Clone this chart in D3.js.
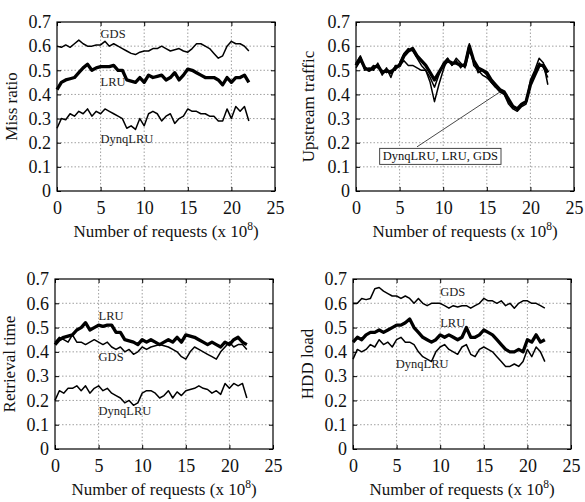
<!DOCTYPE html>
<html><head><meta charset="utf-8">
<script src="https://cdn.jsdelivr.net/npm/d3@7"></script>
<style>
html,body{margin:0;padding:0;background:#fff;}
svg{display:block;}
text{font-family:"Liberation Serif","Times New Roman",serif;}
</style></head>
<body>
<svg id="chart" width="585" height="502" font-family="Liberation Serif, Times New Roman, serif"></svg>
<script>
// x positions (x 10^8 requests), every 0.5
const xValues = d3.range(0, 22.01, 0.5);
const xTicks = [0, 5, 10, 15, 20, 25];
const yTicks = [0, 0.1, 0.2, 0.3, 0.4, 0.5, 0.6, 0.7];
const xTickLabels = ["0", "5", "10", "15", "20", "25"];
const yTickLabels = ["0", "0.1", "0.2", "0.3", "0.4", "0.5", "0.6", "0.7"];

// Panel 1: Miss ratio
const missGDS = [0.60,0.595,0.605,0.595,0.61,0.625,0.61,0.60,0.60,0.605,0.605,0.62,0.60,0.61,0.60,0.59,0.58,0.57,0.565,0.575,0.58,0.58,0.59,0.59,0.60,0.59,0.58,0.585,0.59,0.58,0.575,0.59,0.61,0.61,0.60,0.59,0.57,0.55,0.56,0.60,0.62,0.61,0.61,0.60,0.58];
const missLRU = [0.42,0.45,0.46,0.465,0.47,0.49,0.51,0.525,0.50,0.51,0.515,0.515,0.515,0.52,0.50,0.50,0.46,0.455,0.45,0.47,0.45,0.48,0.47,0.475,0.48,0.46,0.47,0.49,0.46,0.48,0.505,0.50,0.49,0.48,0.47,0.47,0.47,0.46,0.44,0.47,0.45,0.47,0.47,0.48,0.45];
const missDynq = [0.26,0.30,0.295,0.32,0.31,0.33,0.32,0.34,0.31,0.33,0.32,0.34,0.33,0.32,0.31,0.30,0.26,0.27,0.255,0.30,0.27,0.32,0.33,0.32,0.29,0.31,0.32,0.28,0.30,0.31,0.34,0.33,0.33,0.32,0.32,0.31,0.31,0.29,0.29,0.34,0.30,0.35,0.33,0.35,0.29];

// Panel 2: Upstream traffic
const upLRU = [0.52,0.55,0.51,0.50,0.51,0.52,0.49,0.50,0.49,0.51,0.52,0.56,0.58,0.59,0.56,0.54,0.52,0.49,0.46,0.49,0.52,0.54,0.53,0.53,0.52,0.52,0.60,0.54,0.51,0.50,0.49,0.46,0.44,0.42,0.41,0.38,0.35,0.34,0.36,0.37,0.44,0.48,0.52,0.52,0.49];
const upGDS = [0.53,0.56,0.50,0.51,0.50,0.53,0.48,0.51,0.47,0.52,0.52,0.54,0.52,0.52,0.51,0.50,0.50,0.45,0.37,0.44,0.50,0.55,0.52,0.54,0.51,0.53,0.61,0.52,0.50,0.48,0.47,0.45,0.43,0.41,0.40,0.36,0.34,0.33,0.35,0.36,0.46,0.50,0.55,0.53,0.44];
const upDynq = [0.51,0.54,0.51,0.50,0.52,0.51,0.50,0.49,0.50,0.50,0.53,0.57,0.59,0.58,0.55,0.52,0.50,0.47,0.43,0.48,0.53,0.55,0.52,0.55,0.53,0.51,0.58,0.54,0.49,0.50,0.48,0.45,0.43,0.42,0.40,0.37,0.35,0.34,0.36,0.37,0.45,0.49,0.53,0.51,0.47];

// Panel 3: Retrieval time
const retLRU = [0.43,0.45,0.46,0.465,0.47,0.49,0.50,0.52,0.49,0.50,0.51,0.505,0.51,0.51,0.48,0.48,0.45,0.445,0.44,0.43,0.45,0.44,0.45,0.44,0.43,0.44,0.45,0.44,0.46,0.44,0.47,0.465,0.46,0.45,0.44,0.43,0.44,0.43,0.42,0.44,0.43,0.45,0.46,0.44,0.43];
const retGDS = [0.44,0.46,0.45,0.44,0.47,0.44,0.44,0.43,0.44,0.45,0.44,0.43,0.44,0.42,0.41,0.42,0.40,0.41,0.39,0.40,0.42,0.41,0.42,0.425,0.43,0.425,0.42,0.41,0.40,0.38,0.37,0.40,0.42,0.41,0.40,0.39,0.38,0.37,0.40,0.42,0.44,0.42,0.43,0.43,0.41];
const retDynq = [0.20,0.24,0.23,0.25,0.25,0.26,0.24,0.26,0.23,0.25,0.26,0.24,0.25,0.23,0.22,0.21,0.19,0.20,0.18,0.19,0.23,0.24,0.24,0.23,0.21,0.22,0.24,0.21,0.235,0.22,0.24,0.245,0.25,0.26,0.25,0.245,0.23,0.24,0.225,0.27,0.25,0.27,0.26,0.27,0.21];

// Panel 4: HDD load
const hddGDS = [0.60,0.60,0.62,0.615,0.62,0.66,0.665,0.65,0.64,0.63,0.63,0.62,0.63,0.62,0.60,0.62,0.60,0.59,0.60,0.60,0.60,0.59,0.58,0.59,0.585,0.59,0.59,0.58,0.59,0.60,0.62,0.61,0.61,0.60,0.61,0.59,0.60,0.58,0.60,0.61,0.61,0.60,0.60,0.59,0.58];
const hddLRU = [0.44,0.46,0.45,0.47,0.48,0.48,0.49,0.48,0.49,0.50,0.51,0.51,0.52,0.535,0.50,0.48,0.46,0.45,0.44,0.45,0.47,0.46,0.47,0.46,0.45,0.46,0.50,0.46,0.46,0.47,0.49,0.48,0.47,0.45,0.43,0.41,0.40,0.40,0.41,0.40,0.45,0.44,0.47,0.44,0.45];
const hddDynq = [0.37,0.41,0.40,0.41,0.43,0.42,0.45,0.43,0.44,0.42,0.45,0.46,0.44,0.44,0.43,0.40,0.38,0.37,0.36,0.40,0.42,0.43,0.41,0.40,0.39,0.42,0.43,0.39,0.38,0.41,0.42,0.41,0.40,0.38,0.36,0.34,0.34,0.35,0.34,0.36,0.41,0.38,0.42,0.40,0.36];

const panels = [
  {box:[57,22,275,191], ylabel:"Miss ratio", ylabX:11,
   series:[{v:missGDS,w:1.5},{v:missDynq,w:1.5},{v:missLRU,w:3.3}],
   labels:[{t:"GDS",x:5.0,y:0.65},{t:"LRU",x:5.0,y:0.452},{t:"DynqLRU",x:5.0,y:0.218}]},
  {box:[356,22,574,191], ylabel:"Upstream traffic", ylabX:308,
   series:[{v:upGDS,w:1.5},{v:upDynq,w:1.5},{v:upLRU,w:3.3}],
   labels:[], note:{t:"DynqLRU, LRU, GDS", x:2.6, y:0.145, lx:7.0, ly:0.183, px:16.5, py:0.41}},
  {box:[55,279,273,449], ylabel:"Retrieval time", ylabX:9,
   series:[{v:retGDS,w:1.5},{v:retDynq,w:1.5},{v:retLRU,w:3.3}],
   labels:[{t:"LRU",x:5.0,y:0.548},{t:"GDS",x:5.0,y:0.379},{t:"DynqLRU",x:5.0,y:0.159}]},
  {box:[353,279,571,449], ylabel:"HDD load", ylabX:307,
   series:[{v:hddGDS,w:1.5},{v:hddDynq,w:1.5},{v:hddLRU,w:3.3}],
   labels:[{t:"GDS",x:10.0,y:0.647},{t:"LRU",x:10.0,y:0.52},{t:"DynqLRU",x:4.9,y:0.35}]}
];

const svg = d3.select("#chart");
const FONT = "Liberation Serif, Times New Roman, serif";

panels.forEach(p => {
  const [x0,y0,x1,y1] = p.box;
  const x = d3.scaleLinear().domain([0,25]).range([x0,x1]);
  const y = d3.scaleLinear().domain([0,0.7]).range([y1,y0]);
  const g = svg.append("g");

  // grid
  const grid = g.append("g").attr("stroke","#888").attr("stroke-width",0.8).attr("stroke-dasharray","1.5,2");
  xTicks.slice(1,-1).forEach(t => grid.append("line").attr("x1",x(t)).attr("x2",x(t)).attr("y1",y0).attr("y2",y1));
  yTicks.slice(1,-1).forEach(t => grid.append("line").attr("y1",y(t)).attr("y2",y(t)).attr("x1",x0).attr("x2",x1));

  // axes
  g.append("g").attr("transform",`translate(0,${y1})`)
    .call(d3.axisBottom(x).tickValues(xTicks).tickSize(-4).tickPadding(10).tickFormat((d,i)=>xTickLabels[i]));
  g.append("g").attr("transform",`translate(${x0},0)`)
    .call(d3.axisLeft(y).tickValues(yTicks).tickSize(-4).tickPadding(6).tickFormat((d,i)=>yTickLabels[i]));
  g.append("g").attr("transform",`translate(${x1},0)`)
    .call(d3.axisRight(y).tickValues(yTicks).tickSize(-4).tickFormat(""));
  g.append("g").attr("transform",`translate(0,${y0})`)
    .call(d3.axisTop(x).tickValues(xTicks).tickSize(-4).tickFormat(""));
  g.selectAll(".domain").remove();
  g.selectAll("g[font-family]").attr("font-family", FONT);
  g.selectAll(".tick line").attr("stroke","#000").attr("stroke-width",1);
  g.selectAll(".tick text").attr("font-size",18).attr("fill","#111").attr("font-family",FONT);

  // frame
  g.append("rect").attr("x",x0).attr("y",y0).attr("width",x1-x0).attr("height",y1-y0)
    .attr("fill","none").attr("stroke","#000").attr("stroke-width",1.2);

  // lines
  const line = d3.line().x((d,i)=>x(xValues[i])).y(d=>y(d));
  p.series.forEach(s => {
    g.append("path").datum(s.v).attr("d",line).attr("fill","none")
      .attr("stroke","#000").attr("stroke-width",s.w).attr("stroke-linejoin","round");
  });

  // labels
  p.labels.forEach(l => {
    g.append("text").attr("x",x(l.x)).attr("y",y(l.y)).attr("dy","0.35em")
      .attr("font-size",12.5).attr("fill","#222").attr("font-family",FONT).text(l.t);
  });
  if (p.note) {
    const n = p.note;
    g.append("line").attr("x1",x(n.lx)).attr("y1",y(n.ly)).attr("x2",x(n.px)).attr("y2",y(n.py))
      .attr("stroke","#333").attr("stroke-width",0.9);
    const ng = g.append("g");
    const r = ng.append("rect");
    const t = ng.append("text").attr("x",x(n.x)+4).attr("y",y(n.y)).attr("dy","0.35em")
      .attr("font-size",12.5).attr("fill","#111").attr("font-family",FONT).text(n.t);
    const bb = t.node().getBBox();
    r.attr("x",bb.x-3).attr("y",bb.y-1).attr("width",bb.width+6).attr("height",bb.height+2)
      .attr("fill","#fff").attr("stroke","#333").attr("stroke-width",0.9);
  }

  // axis titles
  const xt = g.append("text").attr("x",(x0+x1)/2).attr("y",y1+46).attr("text-anchor","middle")
    .attr("font-size",17).attr("fill","#111").attr("font-family",FONT);
  xt.append("tspan").text("Number of requests (x 10");
  xt.append("tspan").attr("font-size",11.5).attr("dy",-7).text("8");
  xt.append("tspan").attr("dy",7).text(")");
  g.append("text").attr("transform",`translate(${p.ylabX},${(y0+y1)/2}) rotate(-90)`)
    .attr("text-anchor","middle").attr("dy","0.35em").attr("font-size",17).attr("fill","#111")
    .attr("font-family",FONT).text(p.ylabel);
});
</script>
</body></html>
